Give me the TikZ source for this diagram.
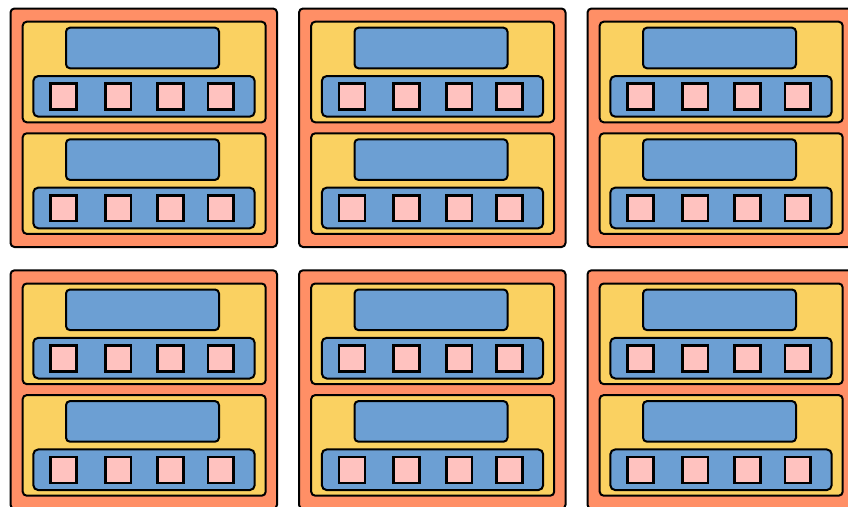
\documentclass[tikz,border=0pt]{standalone}
\definecolor{RackOrange}{HTML}{FF8F66}
\definecolor{ShelfYellow}{HTML}{FAD161}
\definecolor{BarBlue}{HTML}{6C9FD3}
\definecolor{SlotPink}{HTML}{FFC2BF}
\usetikzlibrary{calc}
\begin{document}
\begin{tikzpicture}[x=1pt, y=-1pt,
   box/.style={draw=black, line width=2pt, rounded corners=4pt},
   slot/.style={draw=black, line width=2.6pt, fill=SlotPink}]
            % Frame
            \useasboundingbox (0,0) rectangle (848,506);
            \clip (0,0) rectangle (848,506);
            % Racks: 3 columns x 2 rows
            \foreach \col in {0,1,2}{
               \foreach \row in {0,1}{
                  \begin{scope}[shift={(9.5+288.5*\col,7.5+261.8*\row)}]
                     % Rack body
                     \draw[box, fill=RackOrange] (1,1) rectangle (267.5,239.5);
                     % Two shelves
                     \foreach \k in {0,1}{
                        \begin{scope}[shift={(0,111.6*\k)}]
                           \draw[box, fill=ShelfYellow] (13.2,14.2) rectangle (256.2,114.8);
                           % Label bar
                           \draw[box, fill=BarBlue] (56.5,20.2) rectangle (209.5,60.8);
                           % Slot bar with four slots
                           \draw[box, fill=BarBlue, rounded corners=5pt] (23.8,68.5) rectangle (245.2,109.2);
                           \foreach \sx in {39.8,94.4,146.9,197.2}
                              \draw[slot] (\sx+1.3,76.1) rectangle (\sx+27,101.9);
                        \end{scope}
                     }
                  \end{scope}
               }
            }
         \end{tikzpicture}
\end{document}
